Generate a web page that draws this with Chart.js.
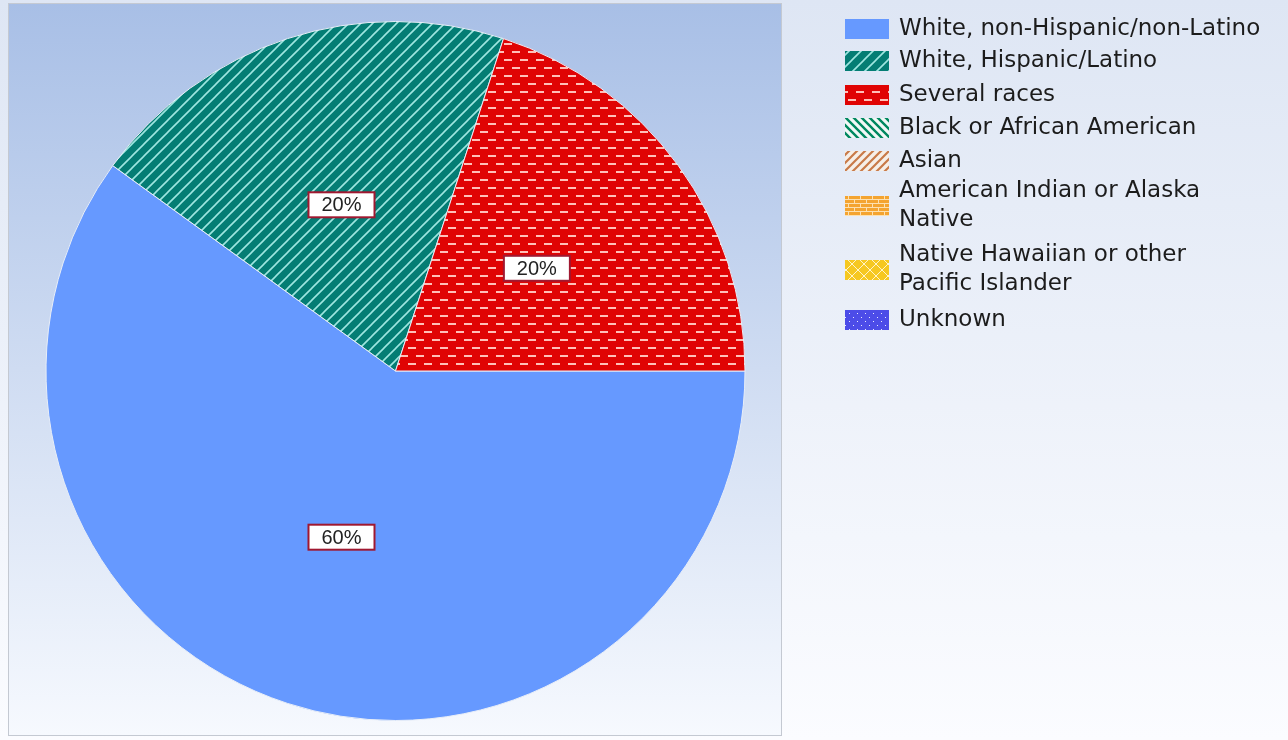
<!DOCTYPE html>
<html>
<head>
<meta charset="utf-8">
<script src="https://cdn.jsdelivr.net/npm/chart.js@4.4.1/dist/chart.umd.min.js"></script>
<style>
  html, body { margin: 0; padding: 0; background: #fff; }
  #wrap { width: 1288px; height: 740px; position: relative; }
</style>
</head>
<body>
<div id="wrap"><canvas id="chart" width="1288" height="740"></canvas></div>
<script>
const LABELS = [
  'White, non-Hispanic/non-Latino',
  'White, Hispanic/Latino',
  'Several races',
  'Black or African American',
  'Asian',
  'American Indian or Alaska Native',
  'Native Hawaiian or other Pacific Islander',
  'Unknown'
]
// legend lines as they wrap in the picture
const LEGEND_LINES = [
  ['White, non-Hispanic/non-Latino'],
  ['White, Hispanic/Latino'],
  ['Several races'],
  ['Black or African American'],
  ['Asian'],
  ['American Indian or Alaska', 'Native'],
  ['Native Hawaiian or other', 'Pacific Islander'],
  ['Unknown']
]
const COUNTS = [3, 1, 1, 0, 0, 0, 0, 0]

// pattern tiles
function tile(w, h, draw) {
  const c = document.createElement('canvas')
  c.width = w; c.height = h
  const g = c.getContext('2d')
  draw(g, w, h)
  return document.createElement('canvas').getContext('2d').createPattern(c, 'repeat')
}

const solidBlue = '#6699ff'
const teal = tile(12, 12, (g, w, h) => {
  g.fillStyle = '#047d74'; g.fillRect(0, 0, w, h)
  g.strokeStyle = '#9ee6e0'; g.lineWidth = 1.6
  g.beginPath()
  g.moveTo(-1, h + 1); g.lineTo(w + 1, -1)
  g.moveTo(-1, 1); g.lineTo(1, -1)
  g.moveTo(w - 1, h + 1); g.lineTo(w + 1, h - 1)
  g.stroke()
})
const redDash = tile(16, 16, (g, w, h) => {
  g.fillStyle = '#e00404'; g.fillRect(0, 0, w, h)
  g.fillStyle = '#ffc0b8'
  g.fillRect(0, 3, 8, 2)
  g.fillRect(8, 11, 8, 2)
})
const blackStripe = tile(8, 8, (g, w, h) => {
  g.fillStyle = '#f2f8f6'; g.fillRect(0, 0, w, h)
  g.strokeStyle = '#008860'; g.lineWidth = 2.4
  g.beginPath()
  g.moveTo(-1, -1); g.lineTo(w + 1, h + 1)
  g.moveTo(w - 1, -1); g.lineTo(w + 1, 1)
  g.moveTo(-1, h - 1); g.lineTo(1, h + 1)
  g.stroke()
})
const asianStripe = tile(8, 8, (g, w, h) => {
  g.fillStyle = '#f6efe8'; g.fillRect(0, 0, w, h)
  g.strokeStyle = '#c87a48'; g.lineWidth = 2.2
  g.beginPath()
  g.moveTo(-1, h + 1); g.lineTo(w + 1, -1)
  g.moveTo(-1, 1); g.lineTo(1, -1)
  g.moveTo(w - 1, h + 1); g.lineTo(w + 1, h - 1)
  g.stroke()
})
const brick = tile(12, 8, (g, w, h) => {
  g.fillStyle = '#f4a430'; g.fillRect(0, 0, w, h)
  g.fillStyle = '#fde0b0'
  g.fillRect(0, 3, w, 1); g.fillRect(0, 7, w, 1)
  g.fillRect(2, 0, 1, 3); g.fillRect(8, 4, 1, 3)
})
const yellowCross = tile(12, 12, (g, w, h) => {
  g.fillStyle = '#f6c820'; g.fillRect(0, 0, w, h)
  g.strokeStyle = '#fff4c8'; g.lineWidth = 1
  g.beginPath()
  g.moveTo(0, 0); g.lineTo(w, h)
  g.moveTo(w, 0); g.lineTo(0, h)
  g.stroke()
})
const blueDots = tile(8, 8, (g, w, h) => {
  g.fillStyle = '#4c4ce8'; g.fillRect(0, 0, w, h)
  g.fillStyle = '#e8e8ff'
  g.fillRect(1, 1, 1, 1); g.fillRect(5, 5, 1, 1)
})
const FILLS = [solidBlue, teal, redDash, blackStripe, asianStripe, brick, yellowCross, blueDots]

const PLOT = { x: 8, y: 3, w: 773, h: 732 }

const backdrop = {
  id: 'backdrop',
  beforeDraw(chart) {
    const ctx = chart.ctx
    ctx.save()
    let g = ctx.createLinearGradient(0, 0, 0, 740)
    g.addColorStop(0, '#dee6f4'); g.addColorStop(1, '#fbfcff')
    ctx.fillStyle = g
    ctx.fillRect(0, 0, 1288, 740)
    g = ctx.createLinearGradient(0, PLOT.y, 0, PLOT.y + PLOT.h)
    g.addColorStop(0, '#a8bfe6'); g.addColorStop(1, '#f6f9fe')
    ctx.fillStyle = g
    ctx.fillRect(PLOT.x, PLOT.y, PLOT.w, PLOT.h)
    ctx.strokeStyle = '#c4c9d2'; ctx.lineWidth = 1
    ctx.strokeRect(PLOT.x + 0.5, PLOT.y + 0.5, PLOT.w, PLOT.h)
    ctx.restore()
  }
}

const sliceLabels = {
  id: 'sliceLabels',
  afterDatasetsDraw(chart) {
    const ctx = chart.ctx
    const data = chart.data.datasets[0].data
    const total = data.reduce((a, b) => a + b, 0)
    ctx.save()
    ctx.font = '20px "Liberation Sans", Arial, sans-serif'
    ctx.textAlign = 'center'; ctx.textBaseline = 'middle'
    chart.getDatasetMeta(0).data.forEach((arc, i) => {
      if (!data[i]) return
      const p = arc.getCenterPoint()
      const txt = Math.round(data[i] / total * 100) + '%'
      const bw = 66, bh = 25
      ctx.fillStyle = '#ffffff'
      ctx.fillRect(p.x - bw / 2, p.y - bh / 2, bw, bh)
      ctx.strokeStyle = '#a01830'; ctx.lineWidth = 2
      ctx.strokeRect(p.x - bw / 2, p.y - bh / 2, bw, bh)
      ctx.fillStyle = '#222'
      ctx.fillText(txt, p.x, p.y + 1)
    })
    ctx.restore()
  }
}

const sideLegend = {
  id: 'sideLegend',
  afterDraw(chart) {
    const ctx = chart.ctx
    const fills = chart.data.datasets[0].backgroundColor
    const rows = [29, 61, 95, 128, 161, 206, 270, 320]
    ctx.save()
    ctx.font = '23px "DejaVu Sans", Verdana, sans-serif'
    ctx.textBaseline = 'middle'; ctx.textAlign = 'left'
    LEGEND_LINES.forEach((lines, i) => {
      const cy = rows[i]
      ctx.fillStyle = fills[i]
      ctx.fillRect(845, cy - 10, 44, 20)
      ctx.fillStyle = '#1c1c1c'
      const lh = 29
      const y0 = cy - (lines.length - 1) * lh / 2
      lines.forEach((t, k) => ctx.fillText(t, 899, y0 + k * lh))
    })
    ctx.restore()
  }
}

new Chart(document.getElementById('chart'), {
  type: 'pie',
  data: {
    labels: LABELS,
    datasets: [{
      data: COUNTS,
      backgroundColor: FILLS,
      borderColor: '#e8eef8',
      borderWidth: 1
    }]
  },
  options: {
    responsive: false,
    animation: false,
    rotation: 90,
    layout: { padding: { left: 45, top: 21, bottom: 19, right: 542 } },
    plugins: { legend: { display: false }, tooltip: { enabled: false } }
  },
  plugins: [backdrop, sliceLabels, sideLegend]
})
</script>
</body>
</html>
